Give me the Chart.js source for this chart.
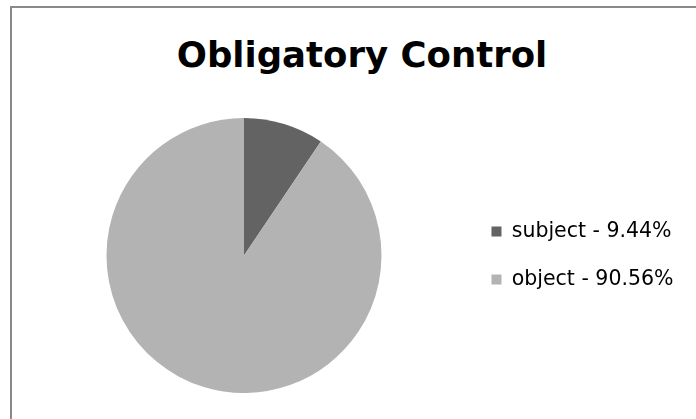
<!DOCTYPE html>
<html>
<head>
<meta charset="utf-8">
<script src="https://cdn.jsdelivr.net/npm/chart.js@4/dist/chart.umd.min.js"></script>
<style>
  html, body { margin: 0; padding: 0; background: #fff; overflow: hidden; width: 696px; height: 419px; }
  #frame {
    position: absolute; left: 10px; top: 6px; width: 720px; height: 430px;
    border-left: 2px solid #898989; border-top: 2px solid #898989;
  }
  #title {
    position: absolute; left: 0; top: 37px; width: 724px; text-align: center;
    font: bold 35.5px "DejaVu Sans", sans-serif; line-height: 35px; color: #000;
  }
  #wrap { position: absolute; left: 0; top: 0; width: 696px; height: 419px; }
</style>
</head>
<body>
<div id="frame"></div>
<div id="title">Obligatory Control</div>
<div id="wrap"><canvas id="pie"></canvas></div>
<script>
// Share of each controller type (percent)
const categories = ['subject', 'object'];
const shares = [9.44, 90.56];

const legendLabels = categories.map((c, i) => `${c} - ${shares[i].toFixed(2)}%`);

new Chart(document.getElementById('pie'), {
  type: 'pie',
  data: {
    labels: legendLabels,
    datasets: [{
      data: shares,
      backgroundColor: ['#636363', '#b3b3b3'],
      borderWidth: 0
    }]
  },
  options: {
    responsive: true,
    maintainAspectRatio: false,
    animation: false,
    layout: { padding: { left: 24, right: 12.5, top: 118, bottom: 26 } },
    plugins: {
      tooltip: { enabled: false },
      title: { display: false },
      legend: {
        display: true,
        position: 'right',
        align: 'center',
        labels: {
          boxWidth: 10,
          boxHeight: 10,
          padding: 27.5,
          color: '#000',
          font: { family: 'DejaVu Sans', size: 20.5 }
        }
      }
    }
  }
});
</script>
</body>
</html>
